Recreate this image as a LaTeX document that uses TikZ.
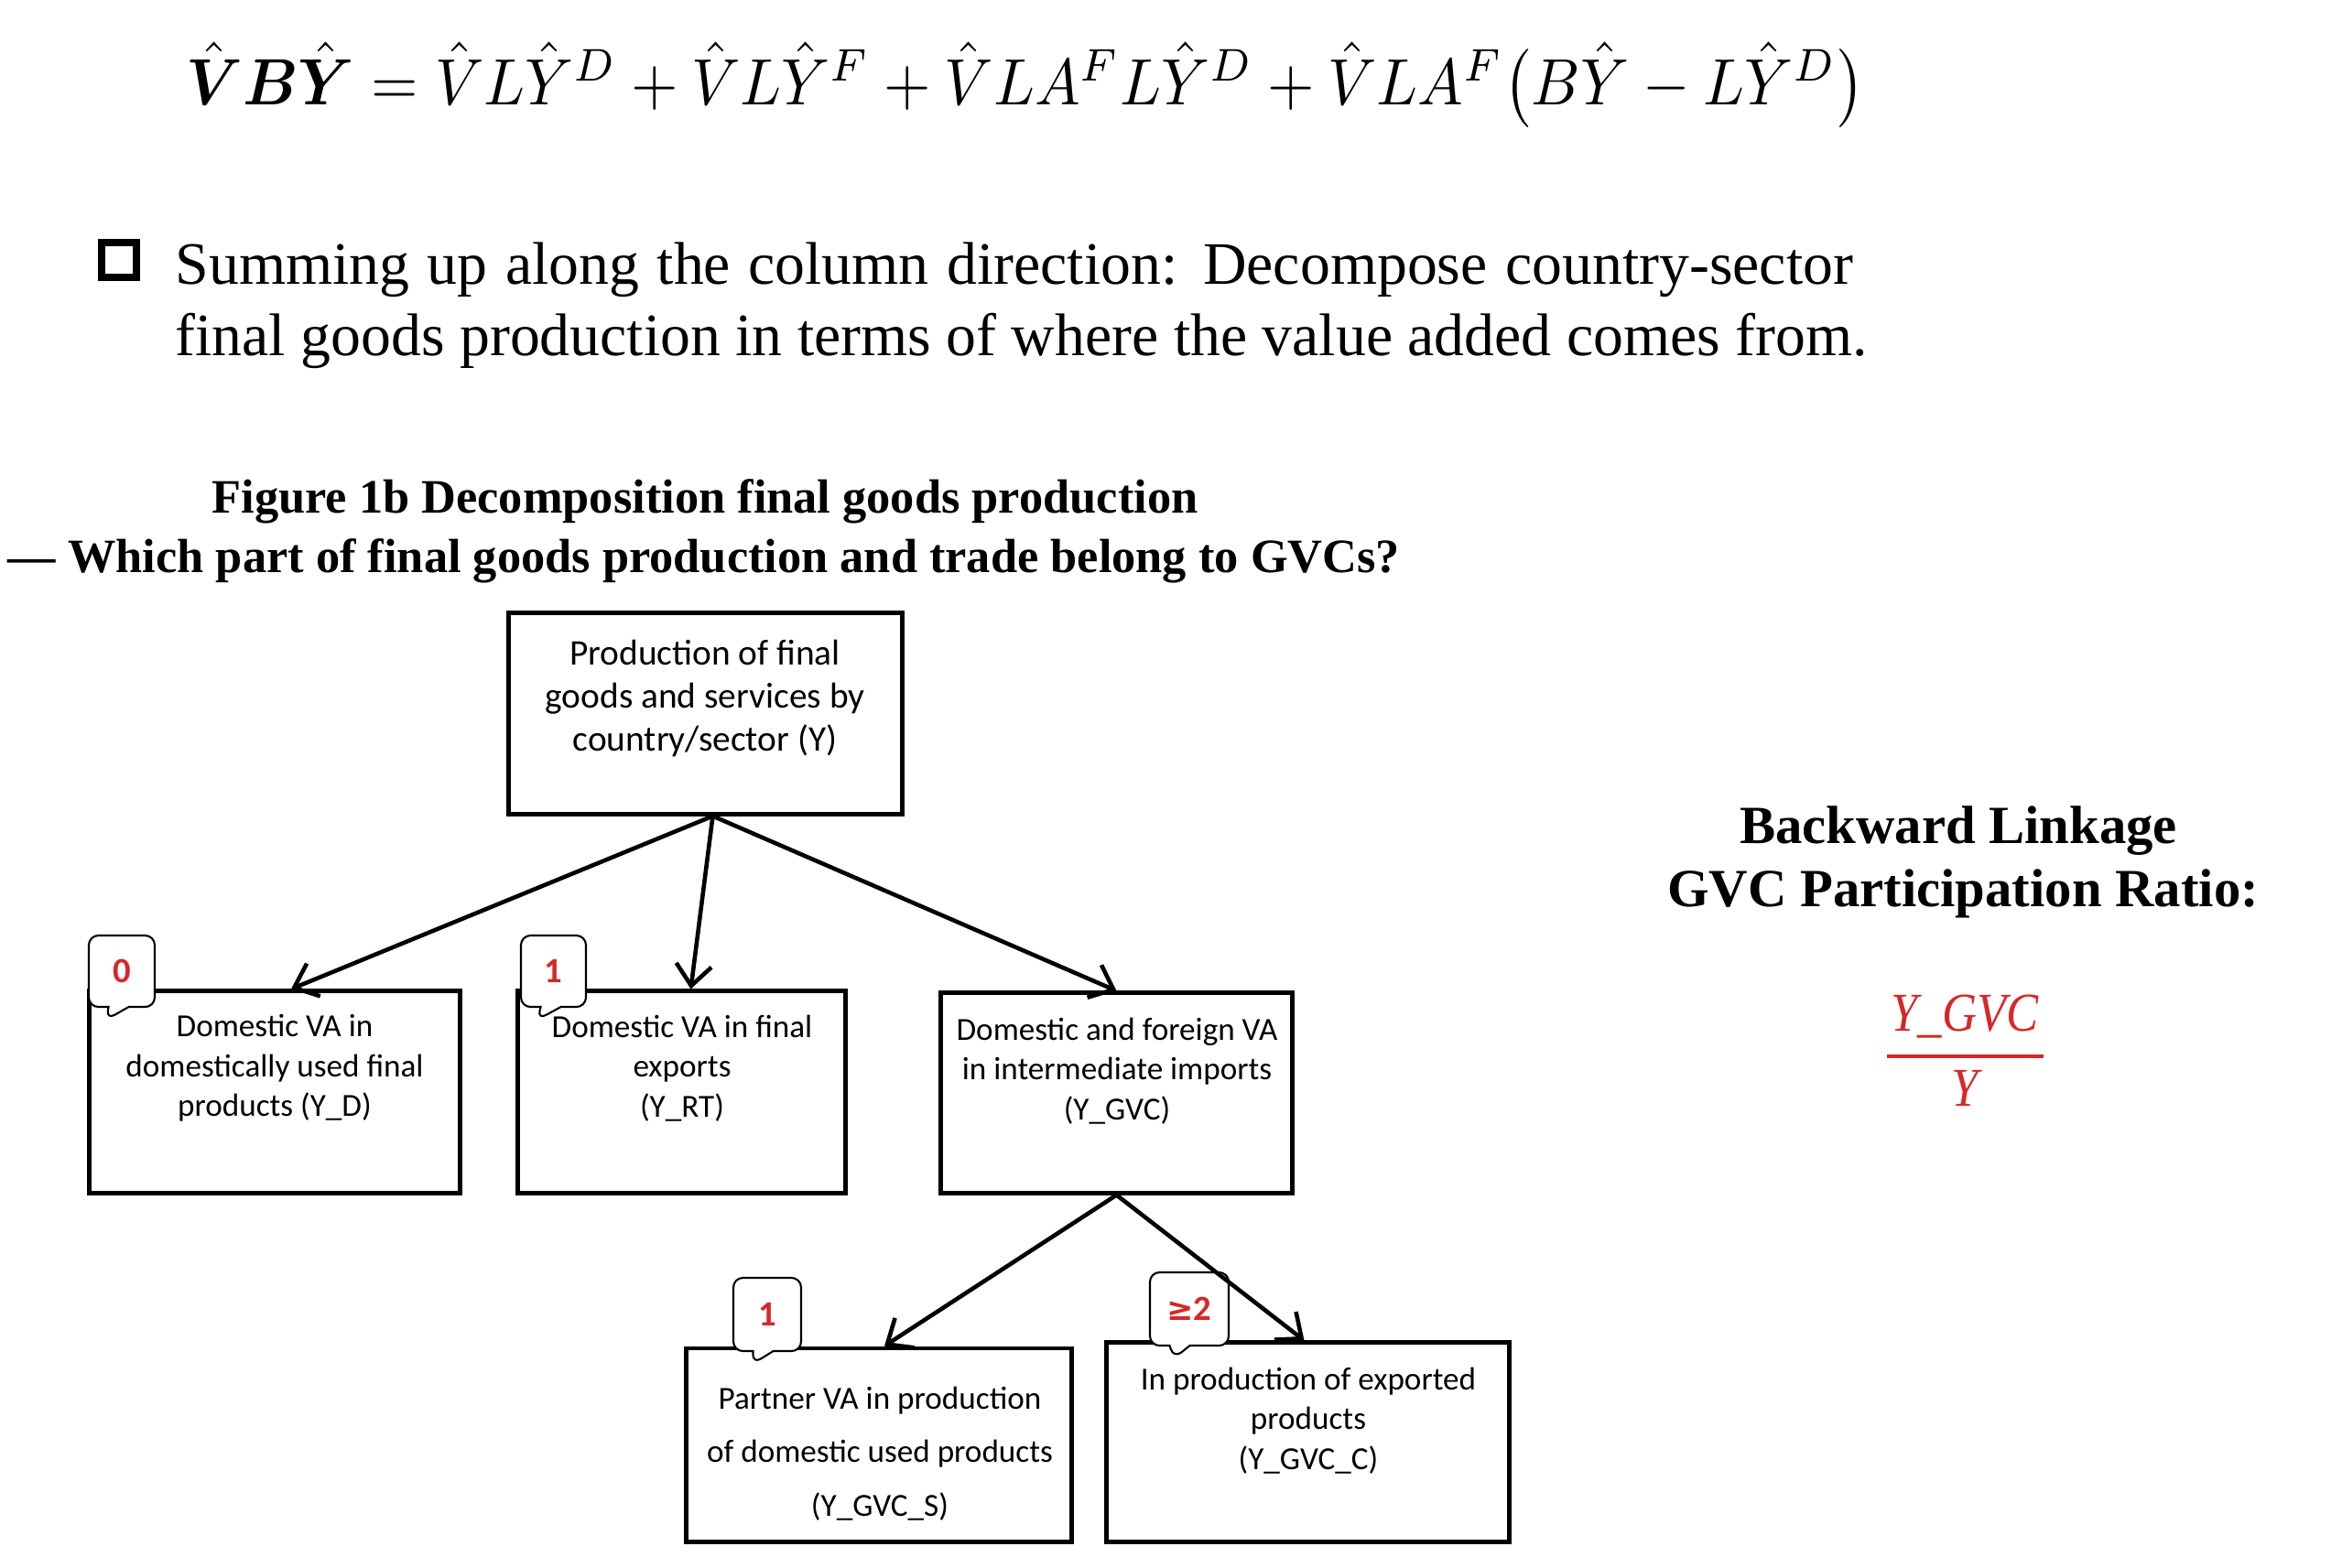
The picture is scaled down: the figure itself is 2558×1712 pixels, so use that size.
\documentclass[tikz,border=0pt]{standalone}
\usepackage{amsmath}
\usepackage{bm}
\usepackage{graphicx}
\usepackage{fontspec}
\setmainfont{Liberation Serif}
\newfontfamily\calfont{Carlito}
\newfontfamily\djvfont{DejaVu Sans}
\usetikzlibrary{arrows.meta,shapes.callouts,calc}
\definecolor{gvcred}{RGB}{214,40,40}
\begin{document}
\begin{tikzpicture}[x=0.01cm,y=-0.01cm,
  box/.style={draw, line width=1.4pt, inner sep=0pt},
  boxtext/.style={font=\calfont\fontsize{10}{12.4}\selectfont, align=center, inner sep=0pt},
  toptext/.style={font=\calfont\fontsize{11.2}{13.5}\selectfont, align=center, inner sep=0pt},
  bubble/.style={rectangle callout, draw, line width=0.6pt, fill=white, rounded corners=3pt,
     inner sep=0pt, text=gvcred, font=\calfont\bfseries\fontsize{11}{13}\selectfont,
     callout pointer width=0.22cm},
  arr/.style={line width=1.3pt, -{Straight Barb[length=6.5pt,width=11pt]}},
  titletext/.style={font=\bfseries\fontsize{14.9}{18}\selectfont, anchor=base, inner sep=0pt},
  sidetext/.style={font=\bfseries\fontsize{16.7}{20}\selectfont, anchor=base, inner sep=0pt},
  bodytext/.style={font=\fontsize{18.7}{22}\selectfont, anchor=base west, inner sep=0pt},
  fractext/.style={text=gvcred, font=\itshape\fontsize{17}{20}\selectfont, anchor=base, inner sep=0pt}
]
\useasboundingbox (0,0) rectangle (2558,1712);
\fill[white] (0,0) rectangle (2558,1712);

% equation
\node[anchor=base, inner sep=0pt] (eq) at (1120,114) {\resizebox*{18.32cm}{0.93cm}{$\hat{\bm V}\bm B\hat{\bm Y} = \hat V L\hat Y^D + \hat V L\hat Y^F + \hat V L A^F L \hat Y^D + \hat V L A^F\bigl(B\hat Y - L\hat Y^D\bigr)$}};

% bullet and body text
\node[draw, line width=2pt, minimum size=0.38cm, inner sep=0pt] (bullet) at (130,284) {};
\node[bodytext] (body1) at (191,310) {\makebox[521pt][s]{Summing up along the column direction: Decompose country-sector}};
\node[bodytext] (body2) at (191,388) {final goods production in terms of where the value added comes from.};

% figure title
\node[titletext] (fig1) at (770,560) {Figure 1b Decomposition final goods production};
\node[titletext] (fig2) at (769,625) {— Which part of final goods production and trade belong to GVCs?};

% boxes
\node[box, minimum width=4.29cm, minimum height=2.19cm] (T) at (770.5,779.5) {};
\node[box, minimum width=4.04cm, minimum height=2.20cm] (A) at (300,1193) {};
\node[box, minimum width=3.57cm, minimum height=2.20cm] (B) at (744.5,1193) {};
\node[box, minimum width=3.83cm, minimum height=2.18cm] (C) at (1219.5,1194) {};
\node[box, minimum width=4.20cm, minimum height=2.11cm] (D) at (960,1578.5) {};
\node[box, minimum width=4.39cm, minimum height=2.17cm] (E) at (1428.5,1575.5) {};

\node[toptext] (Tt) at (770,763) {Production of final\\goods and services by\\country/sector (Y)};
\node[boxtext] (At) at (300,1167) {Domestic VA in\\domestically used final\\products (Y\_D)};
\node[boxtext] (Bt) at (745,1167) {Domestic VA in final\\exports\\(Y\_RT)};
\node[boxtext] (Ct) at (1220,1170) {Domestic and foreign VA\\in intermediate imports\\(Y\_GVC)};
\node[boxtext, font=\calfont\fontsize{10}{16.6}\selectfont] (Dt) at (961,1588) {Partner VA in production\\of domestic used products\\(Y\_GVC\_S)};
\node[boxtext] (Et) at (1429,1552) {In production of exported\\products\\(Y\_GVC\_C)};

% callout bubbles
\node[bubble, minimum width=0.72cm, minimum height=0.78cm, callout absolute pointer={(116,1114)}] (c0) at (133,1061) {0};
\node[bubble, minimum width=0.71cm, minimum height=0.78cm, callout absolute pointer={(587,1114)}] (c1) at (604.5,1061) {1};
\node[bubble, minimum width=0.74cm, minimum height=0.80cm, callout absolute pointer={(822,1490)}] (c2) at (838,1436) {1};
\node[bubble, minimum width=0.86cm, minimum height=0.80cm, callout absolute pointer={(1282,1484)}] (c3) at (1299,1430) {{\djvfont\bfseries\fontsize{10}{12}\selectfont ≥}2};

% arrows
\draw[arr] ($(T.south)+(8,0)$) -- ($(A.north)+(18,0)$);
\draw[arr] ($(T.south)+(8,0)$) -- ($(B.north)+(10,0)$);
\draw[arr] ($(T.south)+(8,0)$) -- (C.north);
\draw[arr] (C.south) -- ($(D.north)+(6,0)$);
\draw[arr] (C.south) -- ($(E.north)+(-4,0)$);

% right side
\node[sidetext] (bl1) at (2139,921) {Backward Linkage};
\node[sidetext] (bl2) at (2144,990) {GVC Participation Ratio:};
\node[fractext] (num) at (2146,1126) {\scalebox{0.88}[1]{Y\_GVC}};
\node[fractext] (den) at (2146,1208) {\scalebox{0.88}[1]{Y}};
\draw[gvcred, line width=1.3pt] (2061,1154) -- (2232,1154);
\end{tikzpicture}
\end{document}
